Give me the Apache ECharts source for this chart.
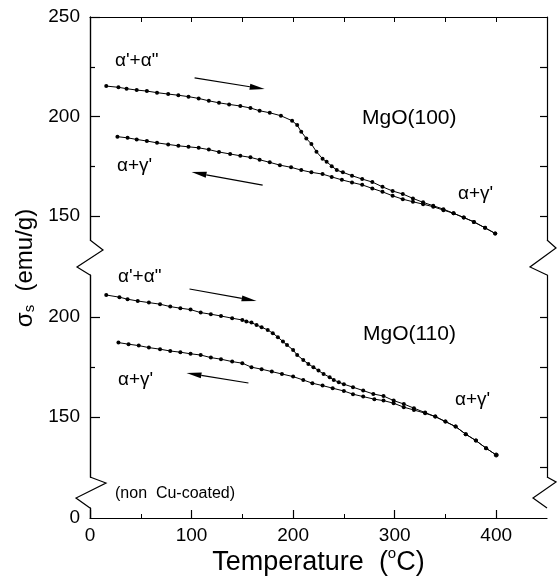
<!DOCTYPE html>
<html>
<head>
<meta charset="utf-8">
<script src="https://cdn.jsdelivr.net/npm/echarts@6/dist/echarts.min.js"></script>
<style>
  html, body { margin: 0; padding: 0; background: #fff; }
  #chart { width: 557px; height: 585px; }
</style>
</head>
<body>
<div id="chart"></div>
<script>
// MgO(100): heating (a'+a'') and cooling (a+g')
var upHeatT = [16, 28, 36, 46, 56, 66, 77, 87, 97, 107, 117, 127, 137, 148, 158, 167, 177, 188, 199, 204,
	208, 213, 218, 223, 229, 233, 238, 243, 249, 258, 268, 278, 288, 298, 308, 318, 328, 338, 348, 358,
	368, 378, 389, 399];
var upHeatS = [215.3, 214.7, 214.0, 213.3, 212.8, 212.0, 211.3, 210.7, 210.0, 209.1, 207.9, 206.9, 206.1, 205.3, 204.3, 202.9, 201.9, 200.4, 197.9, 195.7,
	192.4, 189.0, 186.2, 182.3, 178.8, 177.3, 175.1, 173.1, 172.0, 170.3, 168.6, 167.1, 164.7, 162.6, 161.1, 158.9, 156.9, 155.2, 153.5, 151.4,
	149.3, 147.1, 144.1, 141.3];
var upCoolT = [27, 37, 46, 56, 66, 77, 87, 97, 107, 117, 127, 138, 148, 158, 167, 177, 187, 198, 208, 218,
	229, 238, 248, 258, 268, 278, 288, 298, 308, 318, 328, 338, 348, 358, 368, 378, 389, 399];
var upCoolS = [189.9, 189.3, 188.5, 187.7, 186.8, 186.0, 185.3, 184.8, 184.3, 183.4, 182.2, 181.2, 180.3, 179.5, 178.3, 177.0, 175.6, 174.5, 173.1, 172.0,
	171.1, 169.7, 168.2, 166.9, 165.7, 163.9, 162.2, 160.2, 158.5, 157.2, 156.0, 154.7, 153.0, 151.4, 149.3, 147.1, 144.1, 141.3];

// MgO(110)
var lowHeatT = [16, 29, 37, 47, 58, 69, 79, 89, 99, 109, 119, 129, 140, 150, 154, 159, 164, 169, 175, 180,
	185, 190, 194, 200, 204, 210, 215, 220, 225, 230, 236, 240, 245, 250, 259, 269, 279, 289, 299, 309,
	319, 330, 340, 350, 360, 370, 380, 390, 400];
var lowHeatS = [211.0, 209.9, 208.9, 208.0, 207.2, 206.4, 205.2, 204.4, 203.7, 202.2, 201.4, 200.5, 199.4, 198.5, 197.7, 197.2, 196.0, 194.9, 193.5, 191.9,
	189.9, 187.7, 186.0, 183.5, 181.0, 178.5, 176.5, 174.9, 173.2, 171.5, 169.9, 168.5, 167.4, 166.4, 164.9, 163.2, 161.5, 160.5, 158.2, 156.5,
	154.4, 152.2, 150.2, 147.7, 145.2, 141.4, 138.2, 134.4, 131.0];
var lowCoolT = [28, 38, 48, 58, 69, 79, 89, 99, 109, 119, 129, 140, 150, 159, 169, 179, 189, 200, 210, 219,
	229, 239, 250, 259, 269, 280, 289, 299, 309, 319, 330, 340, 350, 360, 370, 380, 390, 400];
var lowCoolS = [187.2, 186.4, 185.7, 184.7, 183.9, 183.0, 182.4, 181.6, 181.0, 179.7, 178.9, 177.7, 176.9, 174.9, 173.9, 172.7, 171.5, 170.2, 168.5, 166.9,
	165.7, 164.4, 163.0, 161.4, 160.2, 158.9, 158.2, 156.9, 154.9, 153.5, 151.9, 150.2, 147.7, 145.2, 141.4, 138.2, 134.4, 131.0];

// arrows [tail, head] in data units
var upHeatArrow = [[103, 219.4], [172, 213.8]];
var upCoolArrow = [[170, 165.6], [100, 172.1]];
var lowHeatArrow = [[98, 214], [164, 208]];
var lowCoolArrow = [[156, 167], [95, 172]];

// tick labels
var xLabels = [0, 100, 200, 300, 400];
var xMinor = [50, 150, 250, 350];
var xTop = [50, 100, 150, 200, 250, 300, 350, 400];
var upLabels = [150, 200, 250];
var upMinor = [175, 225];
var upRight = [150, 175, 200, 225];
var lowLabels = [150, 200];
var lowMinor = [175];
var lowRight = [125, 150, 175, 200];

var FONT = "'Liberation Sans', Arial, Helvetica, sans-serif";

function pairs(t, s) {
	return t.map(function (v, i) { return [v, s[i]]; });
}

function curve(name, data, grid) {
	return {
		name: name,
		type: 'line',
		xAxisIndex: grid,
		yAxisIndex: grid * 3,
		data: data,
		symbol: 'circle',
		symbolSize: 4,
		showSymbol: true,
		animation: false,
		itemStyle: { color: '#000' },
		lineStyle: { color: '#000', width: 1 }
	};
}

var lowHeatData = pairs(lowHeatT, lowHeatS);
var last = lowHeatData.pop();
lowHeatData.push({ value: last, itemStyle: { color: '#fff', borderColor: '#000', borderWidth: 1 } });

function yAx(grid, pos, min, max, ticks, len, labels) {
	return {
		type: 'value', gridIndex: grid, position: pos, min: min, max: max,
		splitLine: { show: false },
		axisLine: { show: true, lineStyle: { color: '#000', width: 1.2 } },
		axisTick: { show: ticks.length > 0, inside: true, length: len, customValues: ticks, lineStyle: { color: '#000', width: 1.2 } },
		axisLabel: { show: labels.length > 0, customValues: labels, margin: 10, color: '#000', fontSize: 19, fontFamily: FONT }
	};
}

function label(x, y, text, size) {
	return { type: 'text', x: x, y: y, style: { text: text, font: size + 'px ' + FONT, fill: '#000', verticalAlign: 'middle' } };
}

function zigzag(points) {
	return { type: 'polyline', shape: { points: points }, style: { stroke: '#000', lineWidth: 1.2, fill: null } };
}

var chart = echarts.init(document.getElementById('chart'));
var option = {
	backgroundColor: '#fff',
	animation: false,
	grid: [
		{ left: 90, right: 10, top: 17, height: 223 },
		{ left: 90, right: 10, top: 275, height: 202 },
		{ left: 90, right: 10, top: 508, height: 10 }
	],
	xAxis: [
		{
			type: 'value', gridIndex: 0, position: 'top', min: 0, max: 450,
			splitLine: { show: false },
			axisLine: { lineStyle: { color: '#000', width: 1.2 } },
			axisTick: { inside: true, length: 5, customValues: xTop, lineStyle: { color: '#000' } },
			axisLabel: { show: false }
		},
		{ type: 'value', gridIndex: 1, min: 0, max: 450, show: false },
		{
			type: 'value', gridIndex: 2, position: 'bottom', min: 0, max: 450,
			splitLine: { show: false },
			axisLine: { lineStyle: { color: '#000', width: 1.2 } },
			axisTick: { inside: true, length: 8, customValues: xLabels, lineStyle: { color: '#000', width: 1.2 } },
			axisLabel: { customValues: xLabels, margin: 8, color: '#000', fontSize: 19, fontFamily: FONT },
			name: '{a|Temperature  (}{s|o}{a|C)}',
			nameLocation: 'middle',
			nameGap: 24,
			nameTextStyle: {
				rich: {
					a: { fontSize: 27, fontFamily: FONT, color: '#000', verticalAlign: 'bottom', lineHeight: 30 },
					s: { fontSize: 15, fontFamily: FONT, color: '#000', verticalAlign: 'top', lineHeight: 30 }
				}
			}
		},
		{
			type: 'value', gridIndex: 2, position: 'bottom', min: 0, max: 450,
			splitLine: { show: false },
			axisLine: { show: false },
			axisTick: { inside: true, length: 4, customValues: xMinor, lineStyle: { color: '#000' } },
			axisLabel: { show: false }
		}
	],
	yAxis: [
		yAx(0, 'left', 138, 250, upLabels, 10, upLabels),
		yAx(0, 'left', 138, 250, upMinor, 5, []),
		yAx(0, 'right', 138, 250, upRight, 7, []),
		yAx(1, 'left', 120, 221, lowLabels, 10, lowLabels),
		yAx(1, 'left', 120, 221, lowMinor, 5, []),
		yAx(1, 'right', 120, 221, lowRight, 7, []),
		yAx(2, 'left', 0, 5, [], 0, [0]),
		yAx(2, 'right', 0, 5, [], 0, [])
	],
	series: [
		curve('MgO(100) heating', pairs(upHeatT, upHeatS), 0),
		curve('MgO(100) cooling', pairs(upCoolT, upCoolS), 0),
		curve('MgO(110) heating', lowHeatData, 1),
		curve('MgO(110) cooling', pairs(lowCoolT, lowCoolS), 1)
	],
	graphic: [
		// axis breaks
		zigzag([[90, 240], [103, 250], [77, 267], [90, 275]]),
		zigzag([[90, 477], [106, 483], [76, 498], [90, 508]]),
		zigzag([[547, 240], [556, 248], [530, 267], [547, 275]]),
		zigzag([[547, 477], [556, 482], [533, 498], [547, 508]]),
		// y axis name
		{
			type: 'text', x: 23, y: 268, rotation: Math.PI / 2,
			style: {
				text: '{a|σ}{b|s}{a|  (emu/g)}',
				align: 'center', verticalAlign: 'middle',
				rich: {
					a: { fontSize: 24, fontFamily: FONT, fill: '#000', verticalAlign: 'bottom', lineHeight: 28 },
					b: { fontSize: 15, fontFamily: FONT, fill: '#000', verticalAlign: 'bottom', lineHeight: 22 }
				}
			}
		},
		label(115, 61, "α'+α\"", 19),
		label(117, 166, "α+γ'", 19),
		label(362, 118, 'MgO(100)', 21),
		label(458, 194, "α+γ'", 19),
		label(118, 277, "α'+α\"", 19),
		label(363, 334, 'MgO(110)', 21),
		label(118, 380, "α+γ'", 19),
		label(455, 400, "α+γ'", 19),
		label(115, 494, '(non  Cu-coated)', 16)
	]
};
chart.setOption(option);

// arrows: positioned through the axes, then drawn as line + thin filled head
[[upHeatArrow, 0], [upCoolArrow, 0], [lowHeatArrow, 1], [lowCoolArrow, 1]].forEach(function (item) {
	var g = item[1];
	var p0 = chart.convertToPixel({ xAxisIndex: g, yAxisIndex: g * 3 }, item[0][0]);
	var p1 = chart.convertToPixel({ xAxisIndex: g, yAxisIndex: g * 3 }, item[0][1]);
	var dx = p1[0] - p0[0], dy = p1[1] - p0[1];
	var len = Math.sqrt(dx * dx + dy * dy);
	var ux = dx / len, uy = dy / len;
	var hl = 15, hw = 3;
	var bx = p1[0] - ux * hl, by = p1[1] - uy * hl;
	option.graphic.push({ type: 'line', shape: { x1: p0[0], y1: p0[1], x2: bx, y2: by }, style: { stroke: '#000', lineWidth: 1.2 } });
	option.graphic.push({
		type: 'polygon',
		shape: { points: [[p1[0], p1[1]], [bx - uy * hw, by + ux * hw], [bx + uy * hw, by - ux * hw]] },
		style: { fill: '#000' }
	});
});
chart.setOption(option, true);
</script>
</body>
</html>
